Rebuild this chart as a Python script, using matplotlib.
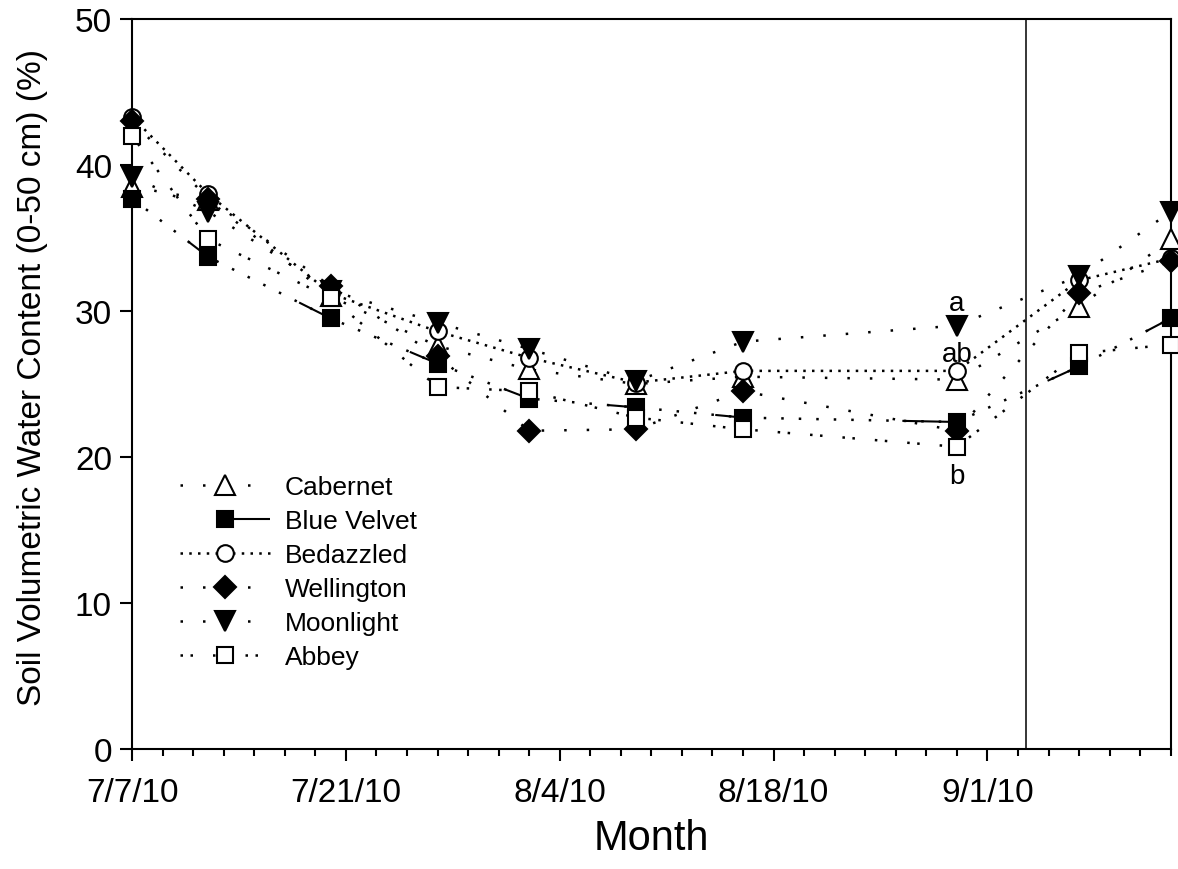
import numpy as np
import pandas as pd
import matplotlib
matplotlib.use('Agg')
import matplotlib.pyplot as plt
import matplotlib.dates as mdates
from matplotlib.lines import Line2D
from matplotlib.ticker import FixedLocator, FuncFormatter

plt.rcParams['font.family'] = ['Liberation Sans', 'DejaVu Sans']

# sampling dates and soil water content (%) per cultivar
dates = pd.to_datetime(['2010-07-07', '2010-07-12', '2010-07-20', '2010-07-27', '2010-08-02',
                        '2010-08-09', '2010-08-16', '2010-08-30', '2010-09-07', '2010-09-13'])
cabernet = [38.5, 37.6, 31.0, 27.6, 26.0, 25.0, 25.5, 25.3, 30.3, 34.9]
blue_velvet = [37.7, 33.7, 29.5, 26.4, 24.0, 23.4, 22.7, 22.4, 26.2, 29.5]
bedazzled = [43.3, 38.0, 31.2, 28.6, 26.8, 25.1, 25.9, 25.9, 32.1, 33.6]
wellington = [43.0, 37.7, 31.7, 26.9, 21.8, 21.9, 24.5, 21.8, 31.2, 33.4]
moonlight = [39.2, 36.8, 31.4, 29.2, 27.4, 25.2, 27.9, 29.0, 32.4, 36.8]
abbey = [42.0, 34.9, 30.9, 24.8, 24.5, 22.7, 21.9, 20.7, 27.1, 27.7]

# mean separation letters on 8/30
letters = ['a', 'ab', 'b']
letter_y = [30.1, 26.6, 18.2]
letter_date = pd.Timestamp('2010-08-30')

split_date = pd.Timestamp('2010-09-03 13:00')
x_start, x_end = pd.Timestamp('2010-07-07'), pd.Timestamp('2010-09-13')

series = [
    ('Cabernet', cabernet, '^', 'white', 14, (0, (1, 8))),
    ('Blue Velvet', blue_velvet, 's', 'black', 12, (0, (1, 6))),
    ('Bedazzled', bedazzled, 'o', 'white', 12, (0, (1, 2.5))),
    ('Wellington', wellington, 'D', 'black', 11, (0, (1, 8))),
    ('Moonlight', moonlight, 'v', 'black', 14, (0, (1, 8))),
    ('Abbey', abbey, 's', 'white', 12, (0, (1, 3, 1, 8))),
]

fig = plt.figure(figsize=(11.78, 8.70), dpi=100)
ax = fig.add_axes([0.1121, 0.1379, 0.8817, 0.8391])

handles = []
for i, (name, vals, mk, fc, ms, ls) in enumerate(series):
    ax.plot(dates, vals, linestyle=ls, color='black', lw=1.8, marker=mk, ms=ms,
            mfc=fc, mec='black', mew=1.5, zorder=3 + i, clip_on=False)
    if name == 'Blue Velvet':
        # solid stub on the last quarter of every segment
        xn = mdates.date2num(dates)
        yv = np.array(vals)
        for j in range(len(xn) - 1):
            xs = [xn[j] + 0.75 * (xn[j + 1] - xn[j]), xn[j + 1]]
            ys = [yv[j] + 0.75 * (yv[j + 1] - yv[j]), yv[j + 1]]
            ax.plot(xs, ys, color='black', lw=1.5, zorder=2)
        h = Line2D([], [], color='black', lw=1.5, linestyle=(22, (22, 22)),
                   marker=mk, ms=ms, mfc=fc, mec='black', mew=1.5)
    else:
        h = Line2D([], [], color='black', lw=1.8, linestyle=ls,
                   marker=mk, ms=ms, mfc=fc, mec='black', mew=1.5)
    handles.append(h)

ax.axvline(split_date, color='black', lw=1.1, zorder=1)

for txt, yy in zip(letters, letter_y):
    ax.text(letter_date, yy, txt, ha='center', va='baseline', fontsize=20, zorder=10)

ax.set_xlim(x_start, x_end)
ax.set_ylim(0, 50)

major = pd.date_range('2010-07-07', '2010-09-01', freq='14D')
minor = pd.date_range('2010-07-07', '2010-09-13', freq='2D')
ax.xaxis.set_major_locator(FixedLocator(mdates.date2num(major)))
ax.xaxis.set_minor_locator(FixedLocator(mdates.date2num(minor)))
ax.xaxis.set_major_formatter(FuncFormatter(
    lambda v, pos: (lambda d: f'{d.month}/{d.day}/{d:%y}')(mdates.num2date(v))))
ax.set_yticks([0, 10, 20, 30, 40, 50])

ax.tick_params(axis='both', which='major', direction='out', length=8.5, width=1.5,
               labelsize=24)
ax.tick_params(axis='x', which='major', pad=12)
ax.tick_params(axis='x', which='minor', direction='out', length=5, width=1.5)
ax.tick_params(axis='y', pad=6)
for sp in ax.spines.values():
    sp.set_linewidth(1.5)

ax.set_xlabel('Month', fontsize=30)
ax.xaxis.set_label_coords(0.5, -0.095)
ax.set_ylabel('Soil Volumetric Water Content (0-50 cm) (%)', fontsize=24)
ax.yaxis.set_label_coords(-0.081, 0.51)

ax.legend(handles, [s[0] for s in series], loc='upper left', bbox_to_anchor=(0.046, 0.375),
          frameon=False, fontsize=19, handlelength=3.4, handletextpad=0.57,
          labelspacing=0.38, borderpad=0, borderaxespad=0, numpoints=1)

fig.savefig('out.png', dpi=100)
